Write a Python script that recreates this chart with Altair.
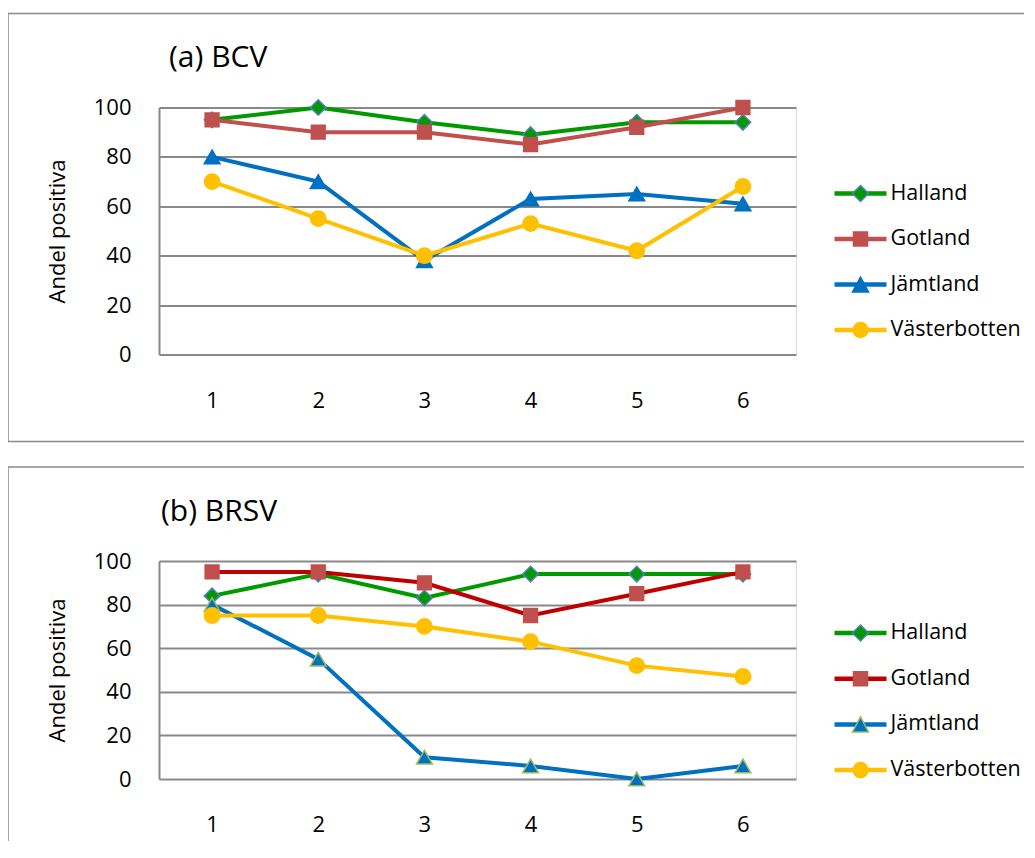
import altair as alt
import pandas as pd

# ---------------- data ----------------
periods = [1, 2, 3, 4, 5, 6]
regions = ["Halland", "Gotland", "Jämtland", "Västerbotten"]

bcv_halland = [95, 100, 94, 89, 94, 94]
bcv_gotland = [95, 90, 90, 85, 92, 100]
bcv_jamtland = [80, 70, 38, 63, 65, 61]
bcv_vasterbotten = [70, 55, 40, 53, 42, 68]

brsv_halland = [84, 94, 83, 94, 94, 94]
brsv_gotland = [95, 95, 90, 75, 85, 95]
brsv_jamtland = [80, 55, 10, 6, 0, 6]
brsv_vasterbotten = [75, 75, 70, 63, 52, 47]

y_ticks = [0, 20, 40, 60, 80, 100]
panel_titles = ["(a) BCV", "(b) BRSV"]
y_title = "Andel positiva"


def long_table(series_lists):
    rows = []
    for r, vals in zip(regions, series_lists):
        for t, v in zip(periods, vals):
            rows.append({"region": r, "t": t, "v": v})
    return pd.DataFrame(rows)


bcv = long_table([bcv_halland, bcv_gotland, bcv_jamtland, bcv_vasterbotten])
brsv = long_table([brsv_halland, brsv_gotland, brsv_jamtland, brsv_vasterbotten])

# ---------------- styles ----------------
FONT = "Open Sans"
GRAY = "#898989"
GREEN = "#009900"
styles = {
    "a": {
        "line": [GREEN, "#C0504D", "#0070C0", "#FFC000"],
        "mfill": [GREEN, "#C0504D", "#0070C0", "#FFC000"],
        "mstroke": ["#4F81BD", "#C0504D", "#0070C0", "#FFC000"],
    },
    "b": {
        "line": [GREEN, "#C00000", "#0070C0", "#FFC000"],
        "mfill": [GREEN, "#C0504D", "#0070C0", "#FFC000"],
        "mstroke": ["#4F81BD", "#C0504D", "#9BBB59", "#FFC000"],
    },
}
shapes = ["diamond", "square", "triangle-up", "circle"]
sizes = [240, 190, 250, 235]

LINE_PATH = "M-1.733,-0.15H1.733V0.15H-1.733Z"
MARKER_PATHS = [
    "M0,-0.533L0.533,0L0,0.533L-0.533,0Z",
    "M-0.467,-0.467H0.467V0.467H-0.467Z",
    "M0,-0.5L0.533,0.5L-0.533,0.5Z",
    "M0.5,0A0.5,0.5,0,1,1,-0.5,0A0.5,0.5,0,1,1,0.5,0Z",
]
BOX_W = 1.5


def panel(df, key, title, height, title_x, title_y, box_top, box_bottom,
          legend_y, row_pad, draw_bottom):
    st = styles[key]
    x = alt.X(
        "t:O",
        scale=alt.Scale(type="point", padding=0.5),
        axis=alt.Axis(
            title=None, labelAngle=0, labelFont=FONT, labelFontSize=22,
            labelColor="black", labelPadding=52.5, labelBaseline="alphabetic",
            domain=False, ticks=False, tickSize=0, grid=False,
        ),
    )
    y = alt.Y(
        "v:Q",
        scale=alt.Scale(domain=[0, 100], nice=False),
        axis=alt.Axis(
            values=y_ticks, title=y_title, titleFont=FONT, titleFontSize=22,
            titleFontWeight="normal", titleColor="black", titleX=-95,
            titleY=height / 2, titleBaseline="alphabetic", titleAlign="center",
            labelFont=FONT, labelFontSize=22, labelColor="black",
            labelPadding=28, ticks=False, tickSize=0,
            domain=True, domainColor=GRAY, domainWidth=2,
            grid=True, gridColor=GRAY, gridWidth=2, gridOpacity=1,
        ),
    )
    one = alt.Data(values=[{"k": 1}])
    layers = []
    layers.append(
        alt.Chart(one).mark_rule(color=GRAY, strokeWidth=BOX_W).encode(
            x=alt.value(-151), y=alt.value(box_top), y2=alt.value(box_bottom)
        )
    )
    layers.append(
        alt.Chart(one).mark_rule(color=GRAY, strokeWidth=BOX_W).encode(
            x=alt.value(-151), x2=alt.value(865), y=alt.value(box_top)
        )
    )
    if draw_bottom:
        layers.append(
            alt.Chart(one).mark_rule(color=GRAY, strokeWidth=BOX_W).encode(
                x=alt.value(-151), x2=alt.value(865), y=alt.value(box_bottom)
            )
        )
    layers.append(
        alt.Chart(one).mark_text(
            text=title, align="left", baseline="alphabetic", font=FONT,
            fontSize=30, color="black"
        ).encode(x=alt.value(title_x), y=alt.value(title_y))
    )
    for i, r in enumerate(regions):
        sub = df[df["region"] == r]
        base = alt.Chart(sub).encode(x=x, y=y)
        layers.append(base.mark_line(color=st["line"][i], strokeWidth=4))
        layers.append(
            base.mark_point(
                shape=shapes[i], filled=True, fill=st["mfill"][i],
                stroke=st["mstroke"][i], strokeWidth=1.5, size=sizes[i],
                opacity=1,
            )
        )
    reg = pd.DataFrame({"region": regions})
    common = dict(
        title=None, orient="none", legendX=685.5, legendY=legend_y,
        symbolSize=900, labelFont=FONT, labelFontSize=21.5, labelColor="black",
        labelOffset=14, rowPadding=row_pad, padding=0, labelLimit=400,
        symbolStrokeWidth=1.5, symbolOpacity=1,
    )
    leg1 = alt.Legend(symbolType=LINE_PATH, symbolStrokeColor="transparent",
                      zindex=0, **common)
    leg2 = alt.Legend(labelExpr="''", zindex=1, **common)
    L1 = alt.Chart(reg).transform_filter("false").mark_point(
        filled=True, strokeWidth=1.5
    ).encode(
        fill=alt.Fill("region:N", scale=alt.Scale(domain=regions, range=st["line"]),
                      legend=leg1)
    )
    L2 = alt.Chart(reg).transform_filter("false").mark_point(
        filled=True, strokeWidth=1.5
    ).encode(
        shape=alt.Shape("region:N", scale=alt.Scale(domain=regions, range=MARKER_PATHS),
                        legend=leg2),
        fill=alt.Fill("region:N", scale=alt.Scale(domain=regions, range=st["mfill"]),
                      legend=leg2),
        stroke=alt.Stroke("region:N", scale=alt.Scale(domain=regions, range=st["mstroke"]),
                          legend=leg2),
    )
    return (
        alt.layer(*layers, L1, L2)
        .resolve_scale(fill="independent", stroke="independent", shape="independent")
        .properties(width=637, height=height)
    )


top = panel(bcv, "a", panel_titles[0], 247, 10, -41, -94, 334, 70, 18.5, True)
bottom = panel(brsv, "b", panel_titles[1], 218, 2, -40, -94, 280, 56, 18.7, False)

chart = (
    alt.vconcat(top, bottom, spacing=21.5)
    .properties(padding={"left": -2, "top": 3.5, "right": 0, "bottom": 0})
    .configure_view(stroke=None)
    .configure(font=FONT)
)

chart.save("out.html", embed_options={"renderer": "svg", "actions": False})
